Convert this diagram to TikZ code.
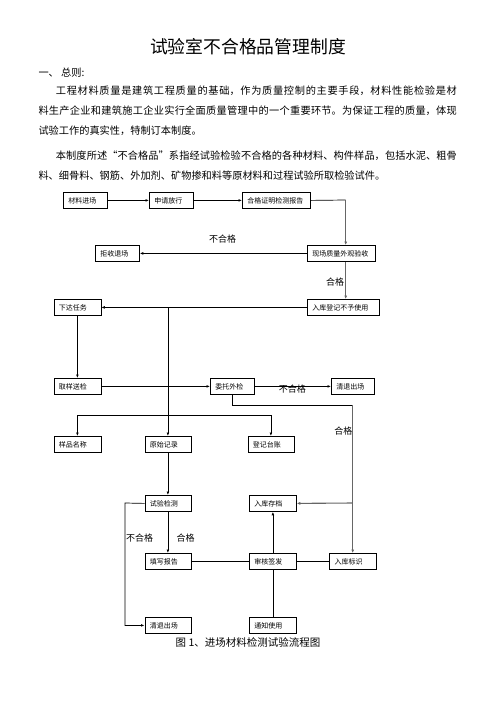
\documentclass[tikz,border=0pt]{standalone}
\usepackage{fontspec}
\setmainfont{Noto Sans CJK SC}
\usetikzlibrary{arrows.meta}
\XeTeXlinebreaklocale "zh"
\XeTeXlinebreakskip = 0pt plus 2pt

\tikzset{
  flowbox/.style={draw, line width=0.8pt, anchor=north west, minimum height=16pt,
    inner xsep=5pt, inner ysep=0pt, align=left, font=\fontsize{7}{8}\selectfont},
  link/.style={line width=0.7pt},
  arr/.style={link, -{Latex[length=3.5pt,width=2.8pt]}},
  grayarr/.style={line width=1.1pt, gray!80!black, -{Latex[length=3.5pt,width=3pt]}},
  tag/.style={font=\fontsize{9}{10}\selectfont, inner sep=0pt},
  bodytext/.style={anchor=west, inner sep=0pt, font=\fontsize{10.2}{12}\selectfont},
}
\newcommand{\fullline}[2]{\parbox{#1}{\parfillskip=0pt #2}}

\begin{document}
\begin{tikzpicture}[x=1pt, y=-1pt]
\fill[white] (0,0) rectangle (496,702);
\useasboundingbox (0,0) rectangle (496,702);

% heading and text
\node[font=\fontsize{17.8}{20}\selectfont, inner sep=0pt] (title) at (248,46.7) {试验室不合格品管理制度};
\node[bodytext] (sec) at (38.3,72.7) {一、\ 总则:};
\node[bodytext] (par1a) at (55.7,91) {\fullline{401pt}{工程材料质量是建筑工程质量的基础，作为质量控制的主要手段，材料性能检验是材}};
\node[bodytext] (par1b) at (38.3,111) {\fullline{418.4pt}{料生产企业和建筑施工企业实行全面质量管理中的一个重要环节。为保证工程的质量，体现}};
\node[bodytext] (par1c) at (38.3,131) {试验工作的真实性，特制订本制度。};
\node[bodytext] (par2a) at (55.7,156) {\fullline{401pt}{本制度所述“不合格品”系指经试验检验不合格的各种材料、构件样品，包括水泥、粗骨}};
\node[bodytext] (par2b) at (38.3,176) {料、细骨料、钢筋、外加剂、矿物掺和料等原材料和过程试验所取检验试件。};

% boxes
\node[flowbox, text width=34pt] (mat) at (63,192) {材料进场};
\node[flowbox, text width=34pt] (apply) at (149,192) {申请放行};
\node[flowbox, text width=58pt] (cert) at (242,192) {合格证明检测报告};
\node[flowbox, text width=58pt] (site) at (307,245) {现场质量外观验收};
\node[flowbox, text width=34pt] (reject) at (95,245) {拒收退场};
\node[flowbox, text width=62pt] (store) at (307,299) {入库登记不予使用};
\node[flowbox, text width=37pt] (task) at (53.5,299) {下达任务};
\node[flowbox, text width=37pt] (sample) at (53.5,378) {取样送检};
\node[flowbox, text width=34pt] (entrust) at (210,378) {委托外检};
\node[flowbox, text width=33pt] (outA) at (331,378) {清退出场};
\node[flowbox, text width=37pt] (name) at (53.5,436) {样品名称};
\node[flowbox, text width=36pt] (record) at (144.5,436) {原始记录};
\node[flowbox, text width=36pt] (ledger) at (247.5,436) {登记台账};
\node[flowbox, text width=36pt] (test) at (144.5,495) {试验检测};
\node[flowbox, text width=37pt] (archive) at (249,495) {入库存档};
\node[flowbox, text width=36pt] (report) at (144.5,553) {填写报告};
\node[flowbox, text width=37pt] (audit) at (249,553) {审核签发};
\node[flowbox, text width=37pt] (mark) at (329.2,553) {入库标识};
\node[flowbox, text width=36pt] (outB) at (144.5,617) {清退出场};
\node[flowbox, text width=37pt] (notify) at (249,617) {通知使用};

% labels
\node[tag] (failA) at (222.7,239.3) {不合格};
\node[tag] (passA) at (335,282) {合格};
\node[tag] (failB) at (292.3,388.7) {不合格};
\node[tag] (passB) at (343.3,430.7) {合格};
\node[tag] (failC) at (139.7,537.7) {不合格};
\node[tag] (passC) at (185.5,537.7) {合格};
\node[font=\fontsize{10.5}{12}\selectfont, inner sep=0pt] (caption) at (248,642.7) {图 1、进场材料检测试验流程图};

% turning points
\coordinate (trunk) at (345.7,200);
\coordinate (branch) at (record.north |- store.west);
\coordinate (split) at (record.north |- 0,415.7);
\coordinate (drop) at (352.7,405);
\coordinate (side) at (352.7,503);
\coordinate (bend) at (125,503);

% connectors
\draw[arr] (mat) -- (apply);
\draw[arr] (apply) -- (cert);
\draw[link] (cert.east) -- (trunk);
\draw[grayarr] (trunk) -- (trunk |- site.north);
\draw[arr] (site) -- (reject);
\draw[grayarr] (trunk |- site.south) -- (trunk |- store.north);
\draw[arr] (store) -- (task);
\draw[arr] (branch) -- (record.north);
\draw[arr] (task) -- (sample);
\draw[arr] (sample) -- (entrust);
\draw[arr] (entrust) -- (outA);
\draw[arr] (split) -| (name.north);
\draw[arr] (split) -| (ledger.north);
\draw[link] (entrust.south) |- (drop);
\draw[grayarr] (drop) -- (drop |- mark.north);
\draw[grayarr] (side) -- (archive.east);
\draw[arr] (record) -- (test);
\draw[arr] (test) -- (report);
\draw[arr] (test.west) -- (bend) |- (outB.west);
\draw[link] (report) -- (audit);
\draw[link] (audit) -- (mark);
\draw[arr] (audit) -- (archive);
\draw[link] (notify) -- (audit);
\end{tikzpicture}
\end{document}
